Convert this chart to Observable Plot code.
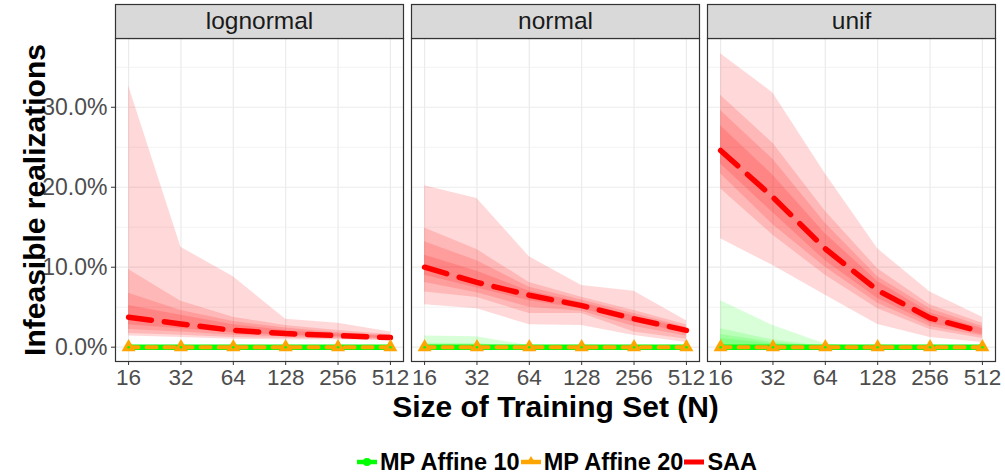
<!DOCTYPE html>
<html>
<head>
<meta charset="utf-8">
<script src="https://cdn.jsdelivr.net/npm/d3@7"></script>
<script src="https://cdn.jsdelivr.net/npm/@observablehq/plot@0.6"></script>
<style>
  html, body { margin: 0; padding: 0; background: white; }
  #chart { width: 1005px; height: 440px; }
  #legend { display: flex; justify-content: center; align-items: center; height: 24px; margin-top: 10px;
            padding-left: 108px; box-sizing: border-box; width: 1005px;
            font: bold 23.5px "Liberation Sans", Arial, sans-serif; color: #000; }
  #legend .item { display: flex; align-items: center; }
  #legend svg { display: block; }
</style>
</head>
<body>
<div id="chart"></div>
<div id="legend"></div>
<script>
// ---------- data ----------
const dists = ["lognormal", "normal", "unif"];
const sizes = [16, 32, 64, 128, 256, 512];
const seriesNames = ["MP Affine 10", "MP Affine 20", "SAA"];
const yTicks = [0, 10, 20, 30];
const yMinor = [5, 15, 25, 35];
const yTitle = "Infeasible realizations";
const xTitle = "Size of Training Set (N)";

// medians (percent)
const saaLognormal = [3.75, 2.9, 2.1, 1.7, 1.45, 1.2];
const saaNormal    = [10.0, 8.1, 6.5, 5.2, 3.55, 2.1];
const saaUnif      = [24.6, 18.75, 12.3, 7.1, 3.65, 1.9];
const mp10Lognormal = [0, 0, 0, 0, 0, 0];
const mp10Normal    = [0, 0, 0, 0, 0, 0];
const mp10Unif      = [0, 0, 0, 0, 0, 0];
const mp20Lognormal = [0, 0, 0, 0, 0, 0];
const mp20Normal    = [0, 0, 0, 0, 0, 0];
const mp20Unif      = [0, 0, 0, 0, 0, 0];

// SAA quantile bands (outer -> inner)
const saaHiLognormal = [[32.7, 12.5, 8.8, 3.5, 3.0, 1.9], [9.7, 5.75, 3.75, 2.7, 2.1, 1.6], [6.75, 4.6, 3.2, 2.4, 1.8, 1.45], [5.2, 4.0, 2.8, 2.1, 1.65, 1.35]];
const saaLoLognormal = [[1.4, 1.2, 1.0, 0.9, 0.9, 0.8], [1.7, 1.5, 1.2, 1.1, 1.0, 0.9], [2.2, 1.9, 1.5, 1.3, 1.15, 1.0], [2.8, 2.3, 1.8, 1.5, 1.3, 1.1]];
const saaHiNormal = [[20.2, 18.6, 11.3, 7.7, 7.0, 3.3], [14.9, 12.2, 8.1, 6.25, 4.6, 2.8], [13.2, 10.8, 7.5, 5.9, 4.2, 2.5], [11.5, 9.5, 7.0, 5.6, 3.9, 2.3]];
const saaLoNormal = [[5.3, 4.8, 2.8, 2.7, 1.45, 0.6], [6.9, 6.2, 4.2, 4.2, 1.9, 1.0], [8.1, 6.8, 5.0, 4.5, 2.6, 1.4], [9.0, 7.4, 5.8, 4.8, 3.1, 1.8]];
const saaHiUnif = [[36.7, 31.8, 21.7, 12.3, 6.9, 3.75], [31.5, 25.5, 17.0, 9.8, 5.3, 3.0], [29.6, 23.5, 15.5, 8.8, 4.8, 2.6], [27.7, 21.5, 14.2, 8.2, 4.3, 2.3]];
const saaLoUnif = [[13.55, 10.2, 6.5, 2.85, 1.2, 0.6], [19.8, 14.0, 9.0, 4.8, 2.2, 1.1], [21.7, 15.3, 10.0, 5.5, 2.6, 1.4], [22.9, 16.8, 10.8, 6.1, 3.0, 1.6]];

// MP Affine 10 bands (lower bound is 0)
const mp10HiLognormal = [[0, 0, 0, 0, 0, 0]];
const mp10HiNormal = [[1.4, 1.3, 0.2, 0, 0, 0], [0.5, 0.45, 0.05, 0, 0, 0], [0.25, 0.2, 0, 0, 0, 0]];
const mp10HiUnif = [[5.8, 2.7, 0.4, 0, 0, 0], [2.3, 0.9, 0.1, 0, 0, 0], [1.6, 0.6, 0.05, 0, 0, 0], [1.1, 0.4, 0, 0, 0, 0]];

// ---------- tidy tables ----------
const medians = {
  "MP Affine 10": [mp10Lognormal, mp10Normal, mp10Unif],
  "MP Affine 20": [mp20Lognormal, mp20Normal, mp20Unif],
  "SAA": [saaLognormal, saaNormal, saaUnif]
};
const lineRows = [];
for (const s of seriesNames) dists.forEach((d, j) => sizes.forEach((n, i) => lineRows.push({series: s, dist: d, N: n, v: medians[s][j][i]})));

const saaBands = [[saaLoLognormal, saaHiLognormal], [saaLoNormal, saaHiNormal], [saaLoUnif, saaHiUnif]];
const saaBandRows = [];
dists.forEach((d, j) => {
  const [lo, hi] = saaBands[j];
  hi.forEach((arr, k) => sizes.forEach((n, i) => saaBandRows.push({dist: d, band: k, N: n, lo: lo[k][i], hi: arr[i]})));
});
const mp10Bands = [mp10HiLognormal, mp10HiNormal, mp10HiUnif];
const mp10BandRows = [];
dists.forEach((d, j) => mp10Bands[j].forEach((arr, k) => sizes.forEach((n, i) => mp10BandRows.push({dist: d, band: k, N: n, lo: 0, hi: arr[i]}))));

const byS = s => lineRows.filter(r => r.series === s);

const GREEN = "#00ff00", ORANGE = "#ffa500", RED = "#ff0000";
const FONT = '"Liberation Sans", Arial, sans-serif';

const chart = Plot.plot({
  width: 1005,
  height: 440,
  marginLeft: 115,
  marginRight: 10,
  marginTop: 38,
  marginBottom: 79,
  style: {fontFamily: FONT, fontSize: "22px", background: "white", color: "black"},
  fx: {domain: dists, paddingInner: 8 / 296, paddingOuter: 0, round: false, axis: null, label: null},
  x: {type: "log", base: 2, domain: [16 / Math.pow(2, 0.25), 512 * Math.pow(2, 0.25)], label: null},
  y: {domain: [-1.79, 38.6], label: null},
  marks: [
    Plot.gridY(yMinor, {stroke: "#ebebeb", strokeOpacity: 1, strokeWidth: 0.6}),
    Plot.gridY(yTicks, {stroke: "#ebebeb", strokeOpacity: 1, strokeWidth: 1.2}),
    Plot.gridX(sizes, {stroke: "#ebebeb", strokeOpacity: 1, strokeWidth: 1.2}),
    Plot.areaY(saaBandRows, {fx: "dist", x: "N", y1: "lo", y2: "hi", z: "band", fill: RED, fillOpacity: 0.15}),
    Plot.areaY(mp10BandRows, {fx: "dist", x: "N", y1: "lo", y2: "hi", z: "band", fill: GREEN, fillOpacity: 0.15}),
    Plot.line(byS("MP Affine 10"), {fx: "dist", x: "N", y: "v", stroke: GREEN, strokeWidth: 5.5}),
    Plot.line(byS("MP Affine 20"), {fx: "dist", x: "N", y: "v", stroke: ORANGE, strokeWidth: 4, strokeDasharray: "10,8"}),
    Plot.line(byS("SAA"), {fx: "dist", x: "N", y: "v", stroke: RED, strokeWidth: 5.5, strokeDasharray: "23,13"}),
    Plot.dot(byS("MP Affine 10"), {fx: "dist", x: "N", y: "v", fill: GREEN, r: 3.5}),
    Plot.dot(byS("MP Affine 20"), {fx: "dist", x: "N", y: "v", fill: ORANGE, symbol: "triangle", r: 5.2}),
    Plot.dot(byS("MP Affine 10"), {fx: "dist", x: "N", y: "v", fill: GREEN, r: 1.2}),
    Plot.frame({stroke: "#333333", strokeWidth: 1.2}),
    Plot.frame({fill: "#d9d9d9", stroke: "#333333", strokeWidth: 1.2, insetTop: -34, insetBottom: 323}),
    Plot.text(dists, {fx: d => d, text: d => d, frameAnchor: "top", lineAnchor: "middle", dy: -17, fontSize: 24.5, fill: "#1a1a1a"}),
    Plot.axisY(yTicks, {tickFormat: d => d.toFixed(1) + "%", tickSize: 4, tickPadding: 4, fontSize: 23, stroke: "#333333", fill: "#4d4d4d", label: null}),
    Plot.axisX(sizes, {tickFormat: d => String(d), tickSize: 4, tickPadding: 4, fontSize: 22.5, stroke: "#333333", fill: "#4d4d4d", label: null}),
    Plot.text([{dist: "lognormal"}], {fx: "dist", text: () => yTitle, frameAnchor: "left", textAnchor: "middle", lineAnchor: "middle", rotate: -90, dx: -80, fontSize: 30, fontWeight: "bold", fill: "black"}),
    Plot.text([{dist: "normal"}], {fx: "dist", text: () => xTitle, frameAnchor: "bottom", lineAnchor: "middle", dy: 46, fontSize: 30, fontWeight: "bold", fill: "black"})
  ]
});
document.getElementById("chart").appendChild(chart);

// ---------- legend ----------
const legendKeys = [
  {name: seriesNames[0], color: GREEN, marker: "circle"},
  {name: seriesNames[1], color: ORANGE, marker: "triangle"},
  {name: seriesNames[2], color: RED, marker: null}
];
const legend = document.getElementById("legend");
for (const k of legendKeys) {
  const item = document.createElement("div");
  item.className = "item";
  let mk = "";
  if (k.marker === "circle") mk = `<circle cx="11" cy="12" r="4" fill="${k.color}"/>`;
  if (k.marker === "triangle") mk = `<path d="M11,6 L16,14 L6,14 Z" fill="${k.color}"/>`;
  item.innerHTML = `<svg width="22" height="24"><line x1="1" x2="21" y1="12" y2="12" stroke="${k.color}" stroke-width="${k.marker ? 4.5 : 5}"/>${mk}</svg><span style="margin-left:2px">${k.name}</span>`;
  legend.appendChild(item);
}
</script>
</body>
</html>
